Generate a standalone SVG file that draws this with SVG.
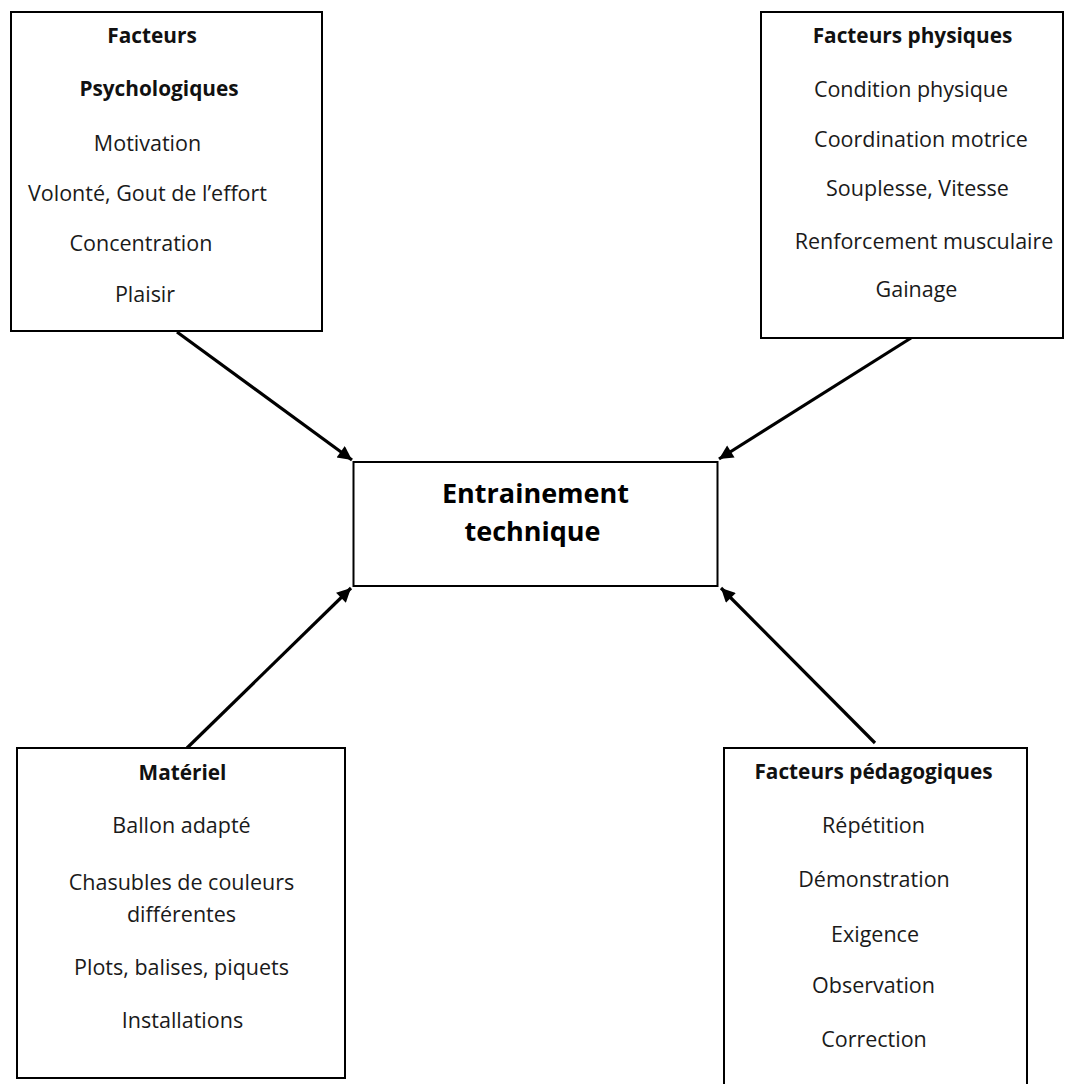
<svg xmlns="http://www.w3.org/2000/svg" width="1065" height="1084" viewBox="0 0 1065 1084">
  <style>
    .box { fill: #ffffff; stroke: #000000; stroke-width: 2; }
    .t { font-family: "Open Sans", "Noto Sans", "Liberation Sans", sans-serif; font-size: 21.5px; fill: #1a1a1a; text-anchor: middle; }
    .h { font-family: "Open Sans", "Noto Sans", "Liberation Sans", sans-serif; font-size: 20.8px; font-weight: bold; fill: #111111; text-anchor: middle; }
    .c { font-family: "Open Sans", "Noto Sans", "Liberation Sans", sans-serif; font-size: 27px; font-weight: bold; fill: #000000; text-anchor: middle; }
    .arrow { stroke: #000000; stroke-width: 3.2; fill: none; marker-end: url(#ah); }
  </style>
  <defs>
    <marker id="ah" viewBox="0 0 10 10" refX="10" refY="5" markerWidth="16" markerHeight="14" markerUnits="userSpaceOnUse" orient="auto">
      <path d="M0,0 L10,5 L0,10 z" fill="#000000"/>
    </marker>
  </defs>
  <rect width="1065" height="1084" fill="#ffffff"/>

  <g id="connectors">
    <line class="arrow" x1="177" y1="332" x2="352" y2="460"/>
    <line class="arrow" x1="911" y1="338" x2="719" y2="459"/>
    <line class="arrow" x1="187" y1="748" x2="351" y2="588"/>
    <line class="arrow" x1="875" y1="743" x2="721" y2="588"/>
  </g>

  <g id="node-psychologiques">
    <rect class="box" x="11" y="12" width="311" height="319"/>
    <text class="h" x="152" y="43">Facteurs</text>
    <text class="h" x="159" y="96">Psychologiques</text>
    <text class="t" x="147.5" y="151">Motivation</text>
    <text class="t" x="147.5" y="201">Volonté, Gout de l’effort</text>
    <text class="t" x="141" y="251">Concentration</text>
    <text class="t" x="145" y="302">Plaisir</text>
  </g>

  <g id="node-physiques">
    <rect class="box" x="761" y="12" width="302" height="326"/>
    <text class="h" x="912.5" y="43">Facteurs physiques</text>
    <text class="t" x="911" y="97">Condition physique</text>
    <text class="t" x="921" y="147">Coordination motrice</text>
    <text class="t" x="917.5" y="196">Souplesse, Vitesse</text>
    <text class="t" x="924" y="249">Renforcement musculaire</text>
    <text class="t" x="916.5" y="297">Gainage</text>
  </g>

  <g id="node-entrainement">
    <rect class="box" x="353.5" y="462" width="364" height="124"/>
    <text class="c" x="535.5" y="503">Entrainement</text>
    <text class="c" x="532.5" y="541">technique</text>
  </g>

  <g id="node-materiel">
    <rect class="box" x="17" y="748" width="328" height="330"/>
    <text class="h" x="182.5" y="780">Matériel</text>
    <text class="t" x="181.5" y="833">Ballon adapté</text>
    <text class="t" x="181.5" y="890">Chasubles de couleurs</text>
    <text class="t" x="181.5" y="922">différentes</text>
    <text class="t" x="181.5" y="975">Plots, balises, piquets</text>
    <text class="t" x="182.5" y="1028">Installations</text>
  </g>

  <g id="node-pedagogiques">
    <rect class="box" x="724" y="748" width="303" height="345"/>
    <text class="h" x="873.5" y="779">Facteurs pédagogiques</text>
    <text class="t" x="873.5" y="833">Répétition</text>
    <text class="t" x="874" y="887">Démonstration</text>
    <text class="t" x="875" y="942">Exigence</text>
    <text class="t" x="873.5" y="993">Observation</text>
    <text class="t" x="874" y="1047">Correction</text>
  </g>
</svg>
